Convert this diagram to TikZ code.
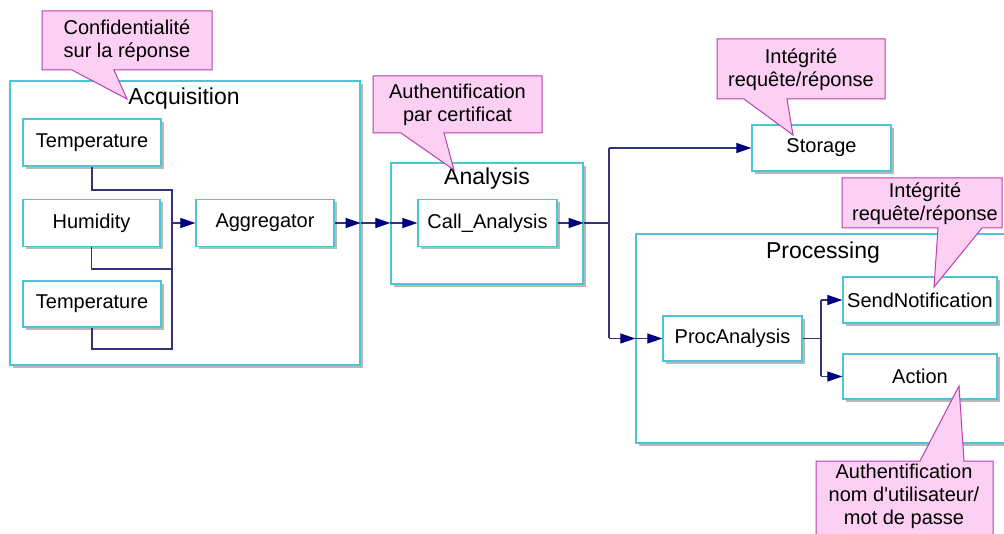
\documentclass[tikz,border=0pt]{standalone}
\usepackage{fontspec}
\setmainfont{Liberation Sans}
\usetikzlibrary{arrows.meta,shadows}
\definecolor{boxc}{HTML}{4CC6D6}
\definecolor{linec}{HTML}{33337A}
\definecolor{tipc}{HTML}{000080}
\definecolor{pinkf}{HTML}{FBD0F3}
\definecolor{pinkd}{HTML}{B840B0}
\definecolor{shadc}{HTML}{B8B8B8}
\begin{document}
\begin{tikzpicture}[x=1pt,y=-1pt,
  box/.style={draw=boxc, line width=1.3pt, fill=white, inner sep=0pt,
    font=\fontsize{20}{23}\selectfont,
    drop shadow={shadow xshift=3pt, shadow yshift=-3pt, fill=shadc, opacity=1}},
  title/.style={inner sep=0pt, font=\fontsize{23}{26}\selectfont},
  conn/.style={draw=linec, line width=1.2pt},
  arr/.style={conn, -{Triangle[length=15pt,width=10pt,color=tipc]}},
  call/.style={draw=pinkd, fill=pinkf, line width=1pt, line join=miter},
  calltext/.style={align=center, inner sep=0pt, font=\fontsize{20}{23.3}\selectfont}
]
\useasboundingbox (0,0) rectangle (1004,534);
\clip (0,0) rectangle (1004,534);
\fill[white] (0,0) rectangle (1004,534);

% containers
\node[box, minimum width=350pt, minimum height=284pt] (acq) at (185,223) {};
\node[title] (acqt) at (184,99) {Acquisition};
\node[box, minimum width=192pt, minimum height=121pt] (ana) at (487,223.5) {};
\node[title] (anat) at (487,179) {Analysis};
\node[box, minimum width=374pt, minimum height=209pt] (proc) at (823,338.5) {};
\node[title] (proct) at (823,253) {Processing};

% inner boxes
\node[box, minimum width=138pt, minimum height=47pt] (t1) at (92,142.5) {Temperature};
\node[box, minimum width=137pt, minimum height=47pt] (hum) at (91.5,223) {Humidity};
\node[box, minimum width=138pt, minimum height=46pt] (t2) at (92,304) {Temperature};
\node[box, minimum width=138pt, minimum height=47pt] (agg) at (265,223) {Aggregator};
\node[box, minimum width=139pt, minimum height=47pt] (cal) at (487.5,223) {Call\_Analysis};
\node[box, minimum width=139pt, minimum height=46pt] (sto) at (821.5,148) {Storage};
\node[box, minimum width=139pt, minimum height=45pt] (pa) at (732.5,338.5) {ProcAnalysis};
\node[box, minimum width=154pt, minimum height=46pt] (sn) at (920,300) {SendNotification};
\node[box, minimum width=154pt, minimum height=45pt] (act) at (920,376.5) {Action};

% acquisition bus
\coordinate (b1) at (172,190);
\coordinate (b2) at (172,269);
\coordinate (b3) at (172,349);
\draw[conn] (t1.south) |- (b1) -- (b3) -| (t2.south);
\draw[conn] (hum.south) |- (b2);
\draw[arr] (b1 |- agg.west) -- (agg.west);

% main chain
\draw[arr] (agg.east) -- (agg.east -| acq.east);
\draw[arr] (agg.east -| acq.east) -- (cal.west -| ana.west);
\draw[arr] (cal.west -| ana.west) -- (cal.west);
\draw[arr] (cal.east) -- (cal.east -| ana.east);
\coordinate (j1) at (609,223);
\coordinate (j1t) at (609,148);
\coordinate (j1b) at (609,338.5);
\draw[conn] (cal.east -| ana.east) -- (j1);
\draw[conn] (j1t) -- (j1b);
\draw[arr] (j1t) -- (sto.west);
\draw[arr] (j1b) -- (pa.west -| proc.west);
\draw[arr] (pa.west -| proc.west) -- (pa.west);
\coordinate (j2) at (821,338.5);
\coordinate (j2t) at (821,300);
\coordinate (j2b) at (821,376.5);
\draw[conn] (pa.east) -- (j2);
\draw[conn] (j2t) -- (j2b);
\draw[arr] (j2t) -- (sn.west);
\draw[arr] (j2b) -- (act.west);

% callouts
\draw[call] (42,11) -- (212,11) -- (212,70) -- (114,70) -- (127,99) -- (72,70) -- (42,70) -- cycle;
\node[calltext] (c1) at (127,40.5) {Confidentialité\\sur la réponse};

\draw[call] (373,76) -- (542,76) -- (542,133) -- (444,133) -- (454,170) -- (401,133) -- (373,133) -- cycle;
\node[calltext] (c2) at (457.5,104.5) {Authentification\\par certificat};

\draw[call] (717,39) -- (885,39) -- (885,99) -- (787,99) -- (793,135) -- (744,99) -- (717,99) -- cycle;
\node[calltext] (c3) at (801,69.5) {Intégrité\\requête/réponse};

\draw[call] (842,178) -- (1002,178) -- (1002,228) -- (982,228) -- (934,287) -- (938,228) -- (842,228) -- cycle;
\node[calltext] (c4) at (925,203.5) {Intégrité\\requête/réponse};

\draw[call] (816,461) -- (920,461) -- (959,386) -- (964,461) -- (993,461) -- (993,560) -- (816,560) -- cycle;
\node[calltext] (c5) at (904,496.5) {Authentification\\nom d\textquotesingle utilisateur/\\mot de passe};
\end{tikzpicture}
\end{document}
